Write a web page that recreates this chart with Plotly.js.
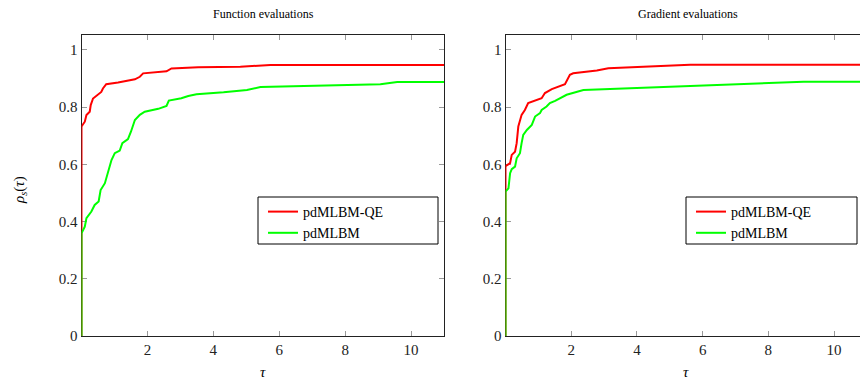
<!DOCTYPE html>
<html>
<head>
<meta charset="utf-8">
<script src="https://cdn.plot.ly/plotly-3.0.1.min.js"></script>
<style>html,body{margin:0;padding:0;background:#fff;}#chart{width:860px;height:380px;}</style>
</head>
<body>
<div id="chart"></div>
<script>
// Function evaluations
var funcQeTau  = [0, 0, 0.10, 0.15, 0.25, 0.28, 0.35, 0.50, 0.60, 0.65, 0.75, 1.11, 1.62, 1.77, 1.87, 2.58, 2.73, 3.54, 4.82, 5.73, 11];
var funcQeRho  = [0, 0.732, 0.749, 0.772, 0.784, 0.807, 0.830, 0.844, 0.853, 0.865, 0.880, 0.886, 0.897, 0.906, 0.918, 0.925, 0.935, 0.939, 0.941, 0.947, 0.947];
var funcTau    = [0, 0, 0.10, 0.15, 0.30, 0.40, 0.52, 0.58, 0.71, 0.78, 0.86, 0.91, 1.01, 1.16, 1.24, 1.41, 1.50, 1.62, 1.77, 1.92, 2.33, 2.58, 2.65, 3.03, 3.24, 3.49, 4.31, 5.02, 5.43, 7.25, 9.07, 9.58, 11];
var funcRho    = [0, 0.359, 0.382, 0.412, 0.435, 0.458, 0.470, 0.510, 0.534, 0.563, 0.592, 0.615, 0.639, 0.648, 0.674, 0.688, 0.714, 0.755, 0.773, 0.784, 0.794, 0.804, 0.823, 0.831, 0.839, 0.845, 0.852, 0.860, 0.870, 0.875, 0.880, 0.888, 0.888];
// Gradient evaluations
var gradQeTau  = [0, 0, 0.14, 0.19, 0.29, 0.34, 0.39, 0.49, 0.59, 0.69, 1.10, 1.20, 1.41, 1.81, 1.96, 2.06, 2.78, 3.13, 5.62, 11];
var gradQeRho  = [0, 0.594, 0.604, 0.633, 0.644, 0.674, 0.732, 0.773, 0.790, 0.814, 0.831, 0.849, 0.863, 0.880, 0.913, 0.918, 0.928, 0.936, 0.948, 0.948];
var gradTau    = [0, 0, 0.09, 0.14, 0.19, 0.29, 0.34, 0.44, 0.49, 0.54, 0.65, 0.80, 0.90, 1.05, 1.10, 1.25, 1.35, 1.51, 1.86, 2.37, 3.18, 5.62, 9.07, 11];
var gradRho    = [0, 0.505, 0.516, 0.569, 0.583, 0.592, 0.621, 0.639, 0.674, 0.703, 0.720, 0.738, 0.767, 0.779, 0.790, 0.802, 0.814, 0.822, 0.843, 0.860, 0.863, 0.874, 0.889, 0.889];

var xTicks = [2, 4, 6, 8, 10];
var yTicks = [0, 0.2, 0.4, 0.6, 0.8, 1];
var yTickText = ['0', '0.2', '0.4', '0.6', '0.8', '1'];
var names = ['pdMLBM-QE', 'pdMLBM'];
var titles = ['Function evaluations', 'Gradient evaluations'];

var RED = '#ff0000', GREEN = '#00ff00';
var FONT = 'Liberation Serif';

var traces = [
  {x: funcQeTau, y: funcQeRho, name: names[0], mode: 'lines', line: {color: RED, width: 2}, xaxis: 'x', yaxis: 'y', legend: 'legend'},
  {x: funcTau, y: funcRho, name: names[1], mode: 'lines', line: {color: GREEN, width: 2}, xaxis: 'x', yaxis: 'y', legend: 'legend'},
  {x: gradQeTau, y: gradQeRho, name: names[0], mode: 'lines', line: {color: RED, width: 2}, xaxis: 'x2', yaxis: 'y2', legend: 'legend2'},
  {x: gradTau, y: gradRho, name: names[1], mode: 'lines', line: {color: GREEN, width: 2}, xaxis: 'x2', yaxis: 'y2', legend: 'legend2'}
];

function xa(domain, range) {
  return {domain: domain, range: range, tickvals: xTicks, ticks: 'inside', ticklen: 5, tickcolor: '#999',
    showline: true, linecolor: '#222', linewidth: 1, mirror: 'ticks', showgrid: false, zeroline: false,
    tickfont: {family: FONT, size: 15, color: '#222'}, layer: 'below traces'};
}
function ya(anchor, mirror) {
  return {domain: [0, 1], range: [0, 1.052], anchor: anchor, tickvals: yTicks, ticktext: yTickText, ticks: 'inside', ticklen: 5, tickcolor: '#999',
    showline: true, linecolor: '#222', linewidth: 1, mirror: mirror, showgrid: false, zeroline: false,
    tickfont: {family: FONT, size: 15, color: '#222'}, layer: 'below traces'};
}

var legendStyle = {bgcolor: 'rgba(0,0,0,0)', borderwidth: 0,
  font: {family: FONT, size: 14, color: '#000'}, xanchor: 'left', yanchor: 'top', tracegroupgap: 0};

function px(v) { return v / 860; }
function py(v) { return (336 - v) / 301; }

var layout = {
  width: 860, height: 380,
  margin: {l: 0, r: 0, t: 35, b: 44},
  paper_bgcolor: '#fff', plot_bgcolor: '#fff',
  showlegend: true,
  xaxis: xa([px(81.5), px(444)], [0, 11]),
  yaxis: ya('x', 'ticks'),
  xaxis2: Object.assign(xa([px(505.5), 1], [0, 10.79]), {anchor: 'y2'}),
  yaxis2: ya('x2', false),
  legend: Object.assign({x: px(263), y: py(196)}, legendStyle),
  legend2: Object.assign({x: px(691), y: py(196)}, legendStyle),
  shapes: [
    {type: 'rect', xref: 'paper', yref: 'paper', x0: px(258), x1: px(438), y0: py(244), y1: py(197), line: {color: '#000', width: 1}, fillcolor: '#fff', layer: 'above'},
    {type: 'rect', xref: 'paper', yref: 'paper', x0: px(686), x1: px(857), y0: py(244), y1: py(197), line: {color: '#000', width: 1}, fillcolor: '#fff', layer: 'above'}
  ],
  annotations: [
    {text: titles[0], xref: 'paper', yref: 'paper', x: px(263), y: py(14), xanchor: 'center', yanchor: 'middle', showarrow: false, font: {family: FONT, size: 12, color: '#000'}},
    {text: titles[1], xref: 'paper', yref: 'paper', x: px(688), y: py(14), xanchor: 'center', yanchor: 'middle', showarrow: false, font: {family: FONT, size: 12, color: '#000'}},
    {text: '<i>τ</i>', xref: 'paper', yref: 'paper', x: px(263), y: py(372), xanchor: 'center', yanchor: 'middle', showarrow: false, font: {family: FONT, size: 15, color: '#000'}},
    {text: '<i>τ</i>', xref: 'paper', yref: 'paper', x: px(686), y: py(372), xanchor: 'center', yanchor: 'middle', showarrow: false, font: {family: FONT, size: 15, color: '#000'}},
    {text: '<i>ρ<sub>s</sub></i>(<i>τ</i>)', xref: 'paper', yref: 'paper', x: px(20), y: py(190), xanchor: 'center', yanchor: 'middle', textangle: -90, showarrow: false, font: {family: FONT, size: 15, color: '#000'}}
  ]
};

Plotly.newPlot('chart', traces, layout, {staticPlot: true, displayModeBar: false});
</script>
</body>
</html>
